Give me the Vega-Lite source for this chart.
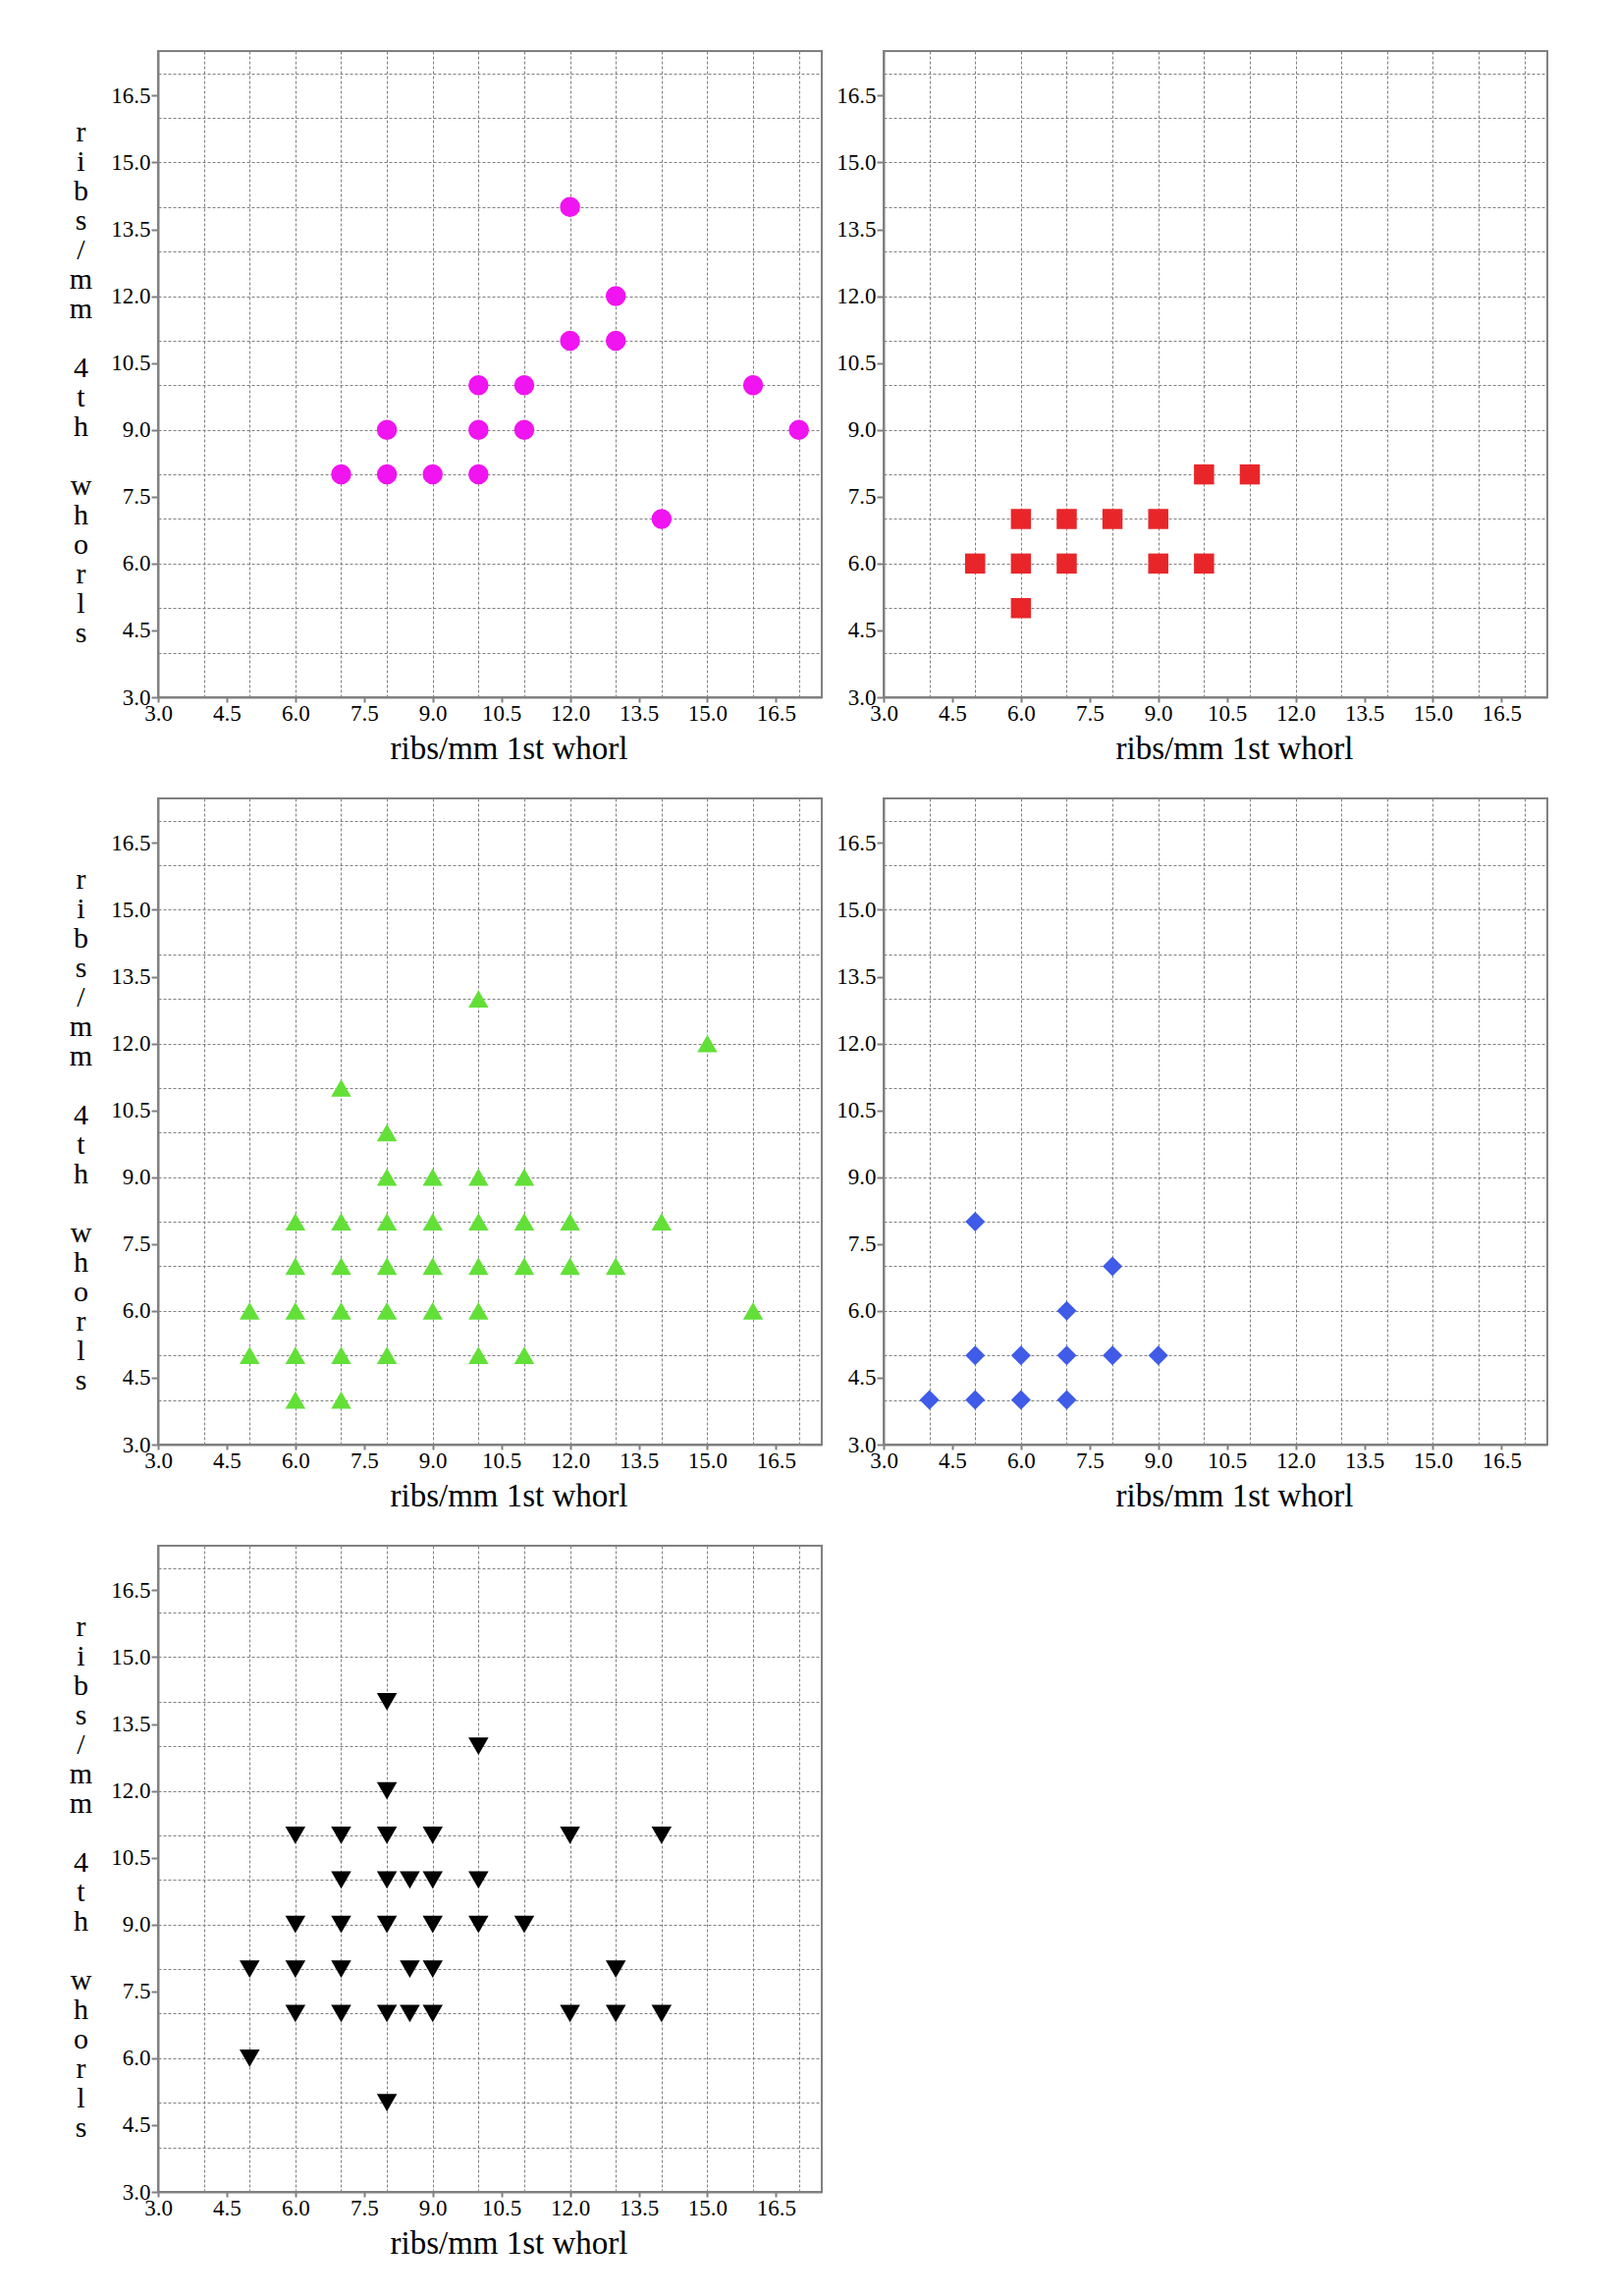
{
  "$schema": "https://vega.github.io/schema/vega-lite/v6.json",
  "background": "white",
  "padding": {"left": 69, "top": 51, "right": 0, "bottom": 0},
  "config": {
    "view": {"stroke": "#808080", "strokeWidth": 2},
    "axis": {
      "domainColor": "#808080",
      "domainWidth": 2,
      "tickColor": "#808080",
      "tickWidth": 2,
      "gridColor": "#808080",
      "gridDash": [3, 2],
      "gridWidth": 1,
      "labelFont": "Liberation Serif",
      "labelFontSize": 23,
      "labelColor": "#000000",
      "titleFont": "Liberation Serif",
      "titleFontWeight": "normal",
      "titleColor": "#000000",
      "labelOverlap": false,
      "labelFlush": false
    }
  },
  "datasets": {
    "p1": [
      {"rib1": 7, "rib4": 8}, {"rib1": 8, "rib4": 9}, {"rib1": 8, "rib4": 8}, {"rib1": 9, "rib4": 8},
      {"rib1": 10, "rib4": 10}, {"rib1": 10, "rib4": 9}, {"rib1": 10, "rib4": 8}, {"rib1": 11, "rib4": 10},
      {"rib1": 11, "rib4": 9}, {"rib1": 12, "rib4": 14}, {"rib1": 12, "rib4": 11}, {"rib1": 13, "rib4": 12},
      {"rib1": 13, "rib4": 11}, {"rib1": 14, "rib4": 7}, {"rib1": 16, "rib4": 10}, {"rib1": 17, "rib4": 9}
    ],
    "p2": [
      {"rib1": 5, "rib4": 6}, {"rib1": 6, "rib4": 7}, {"rib1": 6, "rib4": 6}, {"rib1": 6, "rib4": 5},
      {"rib1": 7, "rib4": 7}, {"rib1": 7, "rib4": 6}, {"rib1": 8, "rib4": 7}, {"rib1": 9, "rib4": 7},
      {"rib1": 9, "rib4": 6}, {"rib1": 10, "rib4": 8}, {"rib1": 10, "rib4": 6}, {"rib1": 11, "rib4": 8}
    ],
    "p3": [
      {"rib1": 5, "rib4": 6}, {"rib1": 5, "rib4": 5},
      {"rib1": 6, "rib4": 8}, {"rib1": 6, "rib4": 7}, {"rib1": 6, "rib4": 6}, {"rib1": 6, "rib4": 5}, {"rib1": 6, "rib4": 4},
      {"rib1": 7, "rib4": 11}, {"rib1": 7, "rib4": 8}, {"rib1": 7, "rib4": 7}, {"rib1": 7, "rib4": 6}, {"rib1": 7, "rib4": 5}, {"rib1": 7, "rib4": 4},
      {"rib1": 8, "rib4": 10}, {"rib1": 8, "rib4": 9}, {"rib1": 8, "rib4": 8}, {"rib1": 8, "rib4": 7}, {"rib1": 8, "rib4": 6}, {"rib1": 8, "rib4": 5},
      {"rib1": 9, "rib4": 9}, {"rib1": 9, "rib4": 8}, {"rib1": 9, "rib4": 7}, {"rib1": 9, "rib4": 6},
      {"rib1": 10, "rib4": 13}, {"rib1": 10, "rib4": 9}, {"rib1": 10, "rib4": 8}, {"rib1": 10, "rib4": 7}, {"rib1": 10, "rib4": 6}, {"rib1": 10, "rib4": 5},
      {"rib1": 11, "rib4": 9}, {"rib1": 11, "rib4": 8}, {"rib1": 11, "rib4": 7}, {"rib1": 11, "rib4": 5},
      {"rib1": 12, "rib4": 8}, {"rib1": 12, "rib4": 7}, {"rib1": 13, "rib4": 7}, {"rib1": 14, "rib4": 8},
      {"rib1": 15, "rib4": 12}, {"rib1": 16, "rib4": 6}
    ],
    "p4": [
      {"rib1": 4, "rib4": 4}, {"rib1": 5, "rib4": 8}, {"rib1": 5, "rib4": 5}, {"rib1": 5, "rib4": 4},
      {"rib1": 6, "rib4": 5}, {"rib1": 6, "rib4": 4}, {"rib1": 7, "rib4": 6}, {"rib1": 7, "rib4": 5},
      {"rib1": 7, "rib4": 4}, {"rib1": 8, "rib4": 7}, {"rib1": 8, "rib4": 5}, {"rib1": 9, "rib4": 5}
    ],
    "p5": [
      {"rib1": 5, "rib4": 8}, {"rib1": 5, "rib4": 6},
      {"rib1": 6, "rib4": 11}, {"rib1": 6, "rib4": 9}, {"rib1": 6, "rib4": 8}, {"rib1": 6, "rib4": 7},
      {"rib1": 7, "rib4": 11}, {"rib1": 7, "rib4": 10}, {"rib1": 7, "rib4": 9}, {"rib1": 7, "rib4": 8}, {"rib1": 7, "rib4": 7},
      {"rib1": 8, "rib4": 14}, {"rib1": 8, "rib4": 12}, {"rib1": 8, "rib4": 11}, {"rib1": 8, "rib4": 10}, {"rib1": 8, "rib4": 9}, {"rib1": 8, "rib4": 7}, {"rib1": 8, "rib4": 5},
      {"rib1": 8.5, "rib4": 10}, {"rib1": 8.5, "rib4": 8}, {"rib1": 8.5, "rib4": 7},
      {"rib1": 9, "rib4": 11}, {"rib1": 9, "rib4": 10}, {"rib1": 9, "rib4": 9}, {"rib1": 9, "rib4": 8}, {"rib1": 9, "rib4": 7},
      {"rib1": 10, "rib4": 13}, {"rib1": 10, "rib4": 10}, {"rib1": 10, "rib4": 9},
      {"rib1": 11, "rib4": 9},
      {"rib1": 12, "rib4": 11}, {"rib1": 12, "rib4": 7},
      {"rib1": 13, "rib4": 8}, {"rib1": 13, "rib4": 7},
      {"rib1": 14, "rib4": 11}, {"rib1": 14, "rib4": 7}
    ]
  },
  "spacing": 32,
  "vconcat": [
    {
      "spacing": 12,
      "hconcat": [
        {
          "width": 676, "height": 658,
          "data": {"name": "p1"},
          "mark": {"type": "point", "filled": true, "shape": "circle", "size": 420, "color": "#F014F0", "opacity": 1},
          "encoding": {
            "x": {"field": "rib1", "type": "quantitative", "scale": {"domain": [3, 17.5], "nice": false, "zero": false},
              "axis": {"values": [3,4,4.5,5,6,7,7.5,8,9,10,10.5,11,12,13,13.5,14,15,16,16.5,17], "grid": true,
                "gridOpacity": {"condition": {"test": "datum.value % 1 === 0", "value": 1}, "value": 0},
                "tickOpacity": {"condition": {"test": "datum.value % 1.5 === 0", "value": 1}, "value": 0},
                "labelExpr": "datum.value % 1.5 === 0 ? format(datum.value, '.1f') : ''",
                "tickSize": 5, "labelPadding": 0, "title": "ribs/mm 1st whorl", "titleFontSize": 33, "titlePadding": 8, "titleX": 357}},
            "y": {"field": "rib4", "type": "quantitative", "scale": {"domain": [3, 17.5], "nice": false, "zero": false},
              "axis": {"values": [3,4,4.5,5,6,7,7.5,8,9,10,10.5,11,12,13,13.5,14,15,16,16.5,17], "grid": true,
                "gridOpacity": {"condition": {"test": "datum.value % 1 === 0", "value": 1}, "value": 0},
                "tickOpacity": {"condition": {"test": "datum.value % 1.5 === 0", "value": 1}, "value": 0},
                "labelExpr": "datum.value % 1.5 === 0 ? format(datum.value, '.1f') : ''",
                "tickSize": 7, "labelPadding": 1,
                "title": ["r","i","b","s","/","m","m","\u200b","4","t","h","\u200b","w","h","o","r","l","s"],
                "titleAngle": 0, "titleAlign": "center", "titleBaseline": "middle", "titleX": -79, "titleY": 82,
                "titleFontSize": 30, "titleLineHeight": 30}}
          }
        },
        {
          "width": 676, "height": 658,
          "data": {"name": "p2"},
          "mark": {"type": "point", "filled": true, "shape": "square", "size": 420, "color": "#E8262A", "opacity": 1},
          "encoding": {
            "x": {"field": "rib1", "type": "quantitative", "scale": {"domain": [3, 17.5], "nice": false, "zero": false},
              "axis": {"values": [3,4,4.5,5,6,7,7.5,8,9,10,10.5,11,12,13,13.5,14,15,16,16.5,17], "grid": true,
                "gridOpacity": {"condition": {"test": "datum.value % 1 === 0", "value": 1}, "value": 0},
                "tickOpacity": {"condition": {"test": "datum.value % 1.5 === 0", "value": 1}, "value": 0},
                "labelExpr": "datum.value % 1.5 === 0 ? format(datum.value, '.1f') : ''",
                "tickSize": 5, "labelPadding": 0, "title": "ribs/mm 1st whorl", "titleFontSize": 33, "titlePadding": 8, "titleX": 357}},
            "y": {"field": "rib4", "type": "quantitative", "scale": {"domain": [3, 17.5], "nice": false, "zero": false},
              "axis": {"values": [3,4,4.5,5,6,7,7.5,8,9,10,10.5,11,12,13,13.5,14,15,16,16.5,17], "grid": true,
                "gridOpacity": {"condition": {"test": "datum.value % 1 === 0", "value": 1}, "value": 0},
                "tickOpacity": {"condition": {"test": "datum.value % 1.5 === 0", "value": 1}, "value": 0},
                "labelExpr": "datum.value % 1.5 === 0 ? format(datum.value, '.1f') : ''",
                "tickSize": 7, "labelPadding": 1, "title": null}}
          }
        }
      ]
    },
    {
      "spacing": 12,
      "hconcat": [
        {
          "width": 676, "height": 658,
          "data": {"name": "p3"},
          "mark": {"type": "point", "filled": true, "shape": "triangle-up", "size": 420, "color": "#62E038", "opacity": 1},
          "encoding": {
            "x": {"field": "rib1", "type": "quantitative", "scale": {"domain": [3, 17.5], "nice": false, "zero": false},
              "axis": {"values": [3,4,4.5,5,6,7,7.5,8,9,10,10.5,11,12,13,13.5,14,15,16,16.5,17], "grid": true,
                "gridOpacity": {"condition": {"test": "datum.value % 1 === 0", "value": 1}, "value": 0},
                "tickOpacity": {"condition": {"test": "datum.value % 1.5 === 0", "value": 1}, "value": 0},
                "labelExpr": "datum.value % 1.5 === 0 ? format(datum.value, '.1f') : ''",
                "tickSize": 5, "labelPadding": 0, "title": "ribs/mm 1st whorl", "titleFontSize": 33, "titlePadding": 8, "titleX": 357}},
            "y": {"field": "rib4", "type": "quantitative", "scale": {"domain": [3, 17.5], "nice": false, "zero": false},
              "axis": {"values": [3,4,4.5,5,6,7,7.5,8,9,10,10.5,11,12,13,13.5,14,15,16,16.5,17], "grid": true,
                "gridOpacity": {"condition": {"test": "datum.value % 1 === 0", "value": 1}, "value": 0},
                "tickOpacity": {"condition": {"test": "datum.value % 1.5 === 0", "value": 1}, "value": 0},
                "labelExpr": "datum.value % 1.5 === 0 ? format(datum.value, '.1f') : ''",
                "tickSize": 7, "labelPadding": 1,
                "title": ["r","i","b","s","/","m","m","\u200b","4","t","h","\u200b","w","h","o","r","l","s"],
                "titleAngle": 0, "titleAlign": "center", "titleBaseline": "middle", "titleX": -79, "titleY": 82,
                "titleFontSize": 30, "titleLineHeight": 30}}
          }
        },
        {
          "width": 676, "height": 658,
          "data": {"name": "p4"},
          "mark": {"type": "point", "filled": true, "shape": "diamond", "size": 400, "color": "#3F5BE8", "opacity": 1},
          "encoding": {
            "x": {"field": "rib1", "type": "quantitative", "scale": {"domain": [3, 17.5], "nice": false, "zero": false},
              "axis": {"values": [3,4,4.5,5,6,7,7.5,8,9,10,10.5,11,12,13,13.5,14,15,16,16.5,17], "grid": true,
                "gridOpacity": {"condition": {"test": "datum.value % 1 === 0", "value": 1}, "value": 0},
                "tickOpacity": {"condition": {"test": "datum.value % 1.5 === 0", "value": 1}, "value": 0},
                "labelExpr": "datum.value % 1.5 === 0 ? format(datum.value, '.1f') : ''",
                "tickSize": 5, "labelPadding": 0, "title": "ribs/mm 1st whorl", "titleFontSize": 33, "titlePadding": 8, "titleX": 357}},
            "y": {"field": "rib4", "type": "quantitative", "scale": {"domain": [3, 17.5], "nice": false, "zero": false},
              "axis": {"values": [3,4,4.5,5,6,7,7.5,8,9,10,10.5,11,12,13,13.5,14,15,16,16.5,17], "grid": true,
                "gridOpacity": {"condition": {"test": "datum.value % 1 === 0", "value": 1}, "value": 0},
                "tickOpacity": {"condition": {"test": "datum.value % 1.5 === 0", "value": 1}, "value": 0},
                "labelExpr": "datum.value % 1.5 === 0 ? format(datum.value, '.1f') : ''",
                "tickSize": 7, "labelPadding": 1, "title": null}}
          }
        }
      ]
    },
    {
      "hconcat": [
        {
          "width": 676, "height": 658,
          "data": {"name": "p5"},
          "mark": {"type": "point", "filled": true, "shape": "triangle-down", "size": 420, "color": "#000000", "opacity": 1},
          "encoding": {
            "x": {"field": "rib1", "type": "quantitative", "scale": {"domain": [3, 17.5], "nice": false, "zero": false},
              "axis": {"values": [3,4,4.5,5,6,7,7.5,8,9,10,10.5,11,12,13,13.5,14,15,16,16.5,17], "grid": true,
                "gridOpacity": {"condition": {"test": "datum.value % 1 === 0", "value": 1}, "value": 0},
                "tickOpacity": {"condition": {"test": "datum.value % 1.5 === 0", "value": 1}, "value": 0},
                "labelExpr": "datum.value % 1.5 === 0 ? format(datum.value, '.1f') : ''",
                "tickSize": 5, "labelPadding": 0, "title": "ribs/mm 1st whorl", "titleFontSize": 33, "titlePadding": 8, "titleX": 357}},
            "y": {"field": "rib4", "type": "quantitative", "scale": {"domain": [3, 17.5], "nice": false, "zero": false},
              "axis": {"values": [3,4,4.5,5,6,7,7.5,8,9,10,10.5,11,12,13,13.5,14,15,16,16.5,17], "grid": true,
                "gridOpacity": {"condition": {"test": "datum.value % 1 === 0", "value": 1}, "value": 0},
                "tickOpacity": {"condition": {"test": "datum.value % 1.5 === 0", "value": 1}, "value": 0},
                "labelExpr": "datum.value % 1.5 === 0 ? format(datum.value, '.1f') : ''",
                "tickSize": 7, "labelPadding": 1,
                "title": ["r","i","b","s","/","m","m","\u200b","4","t","h","\u200b","w","h","o","r","l","s"],
                "titleAngle": 0, "titleAlign": "center", "titleBaseline": "middle", "titleX": -79, "titleY": 82,
                "titleFontSize": 30, "titleLineHeight": 30}}
          }
        }
      ]
    }
  ]
}
